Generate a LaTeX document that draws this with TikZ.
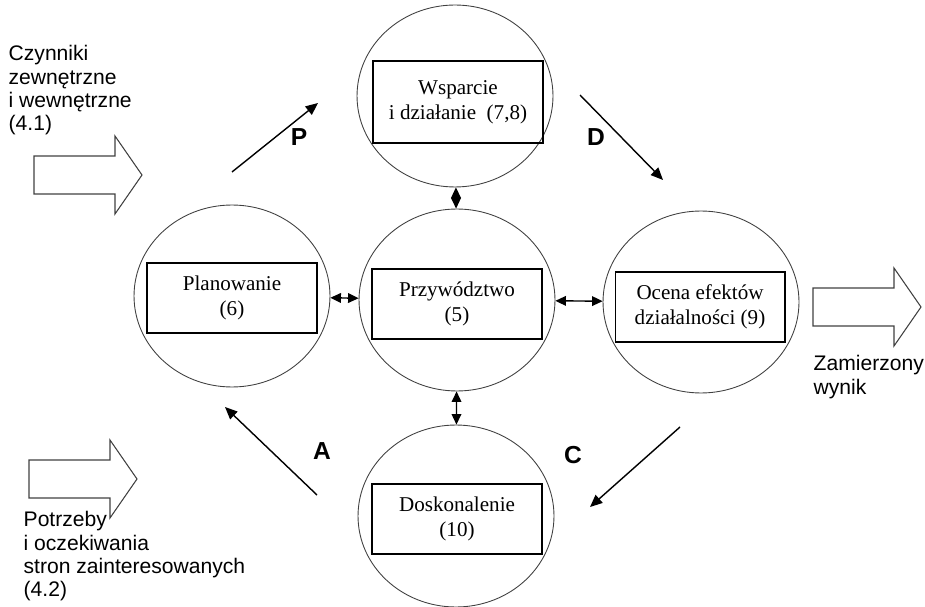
\documentclass[tikz,border=0pt]{standalone}
\usepackage{fontspec}
\setmainfont{Liberation Serif}
\setsansfont{Liberation Sans}
\usetikzlibrary{arrows.meta,shapes.geometric}

\begin{document}
\begin{tikzpicture}[x=0.02cm, y=-0.02cm, thick,
    phase/.style={draw=black!75, line width=0.5pt, ellipse, minimum width=3.92cm, minimum height=3.64cm, inner sep=0pt},
    box/.style={draw, line width=0.6pt, rectangle, minimum width=3.4cm, minimum height=1.4cm, align=center, font=\fontsize{12}{14.2}\selectfont},
    side/.style={font=\sffamily\fontsize{12}{13.2}\selectfont, align=left, inner sep=0pt, anchor=north west},
    letter/.style={font=\sffamily\bfseries\fontsize{14}{16}\selectfont},
    link/.style={line width=0.8pt, {Triangle[length=6pt,width=5.5pt]}-{Triangle[length=6pt,width=5.5pt]}},
    turn/.style={line width=0.8pt, -{Triangle[length=7pt,width=6pt]}},
    flow/.style={draw=black!75, line width=0.6pt}]
    \useasboundingbox (0,0) rectangle (925,607);

    \node[phase] (support) at (455,96) {};
    \node[phase] (plan) at (232,296) {};
    \node[phase] (lead) at (457,300) {};
    \node[phase] (eval) at (701,302) {};
    \node[phase] (improve) at (456,516) {};

    \node[box, minimum height=1.64cm] (supportbox) at (458,102) {Wsparcie\\ i działanie\ \ (7,8)};
    \node[box] (planbox) at (232,298) {Planowanie\\(6)};
    \node[box] (leadbox) at (457,304) {Przywództwo\\(5)};
    \node[box] (evalbox) at (700,307) {Ocena efektów\\działalności (9)};
    \node[box] (improvebox) at (457,519) {Doskonalenie\\(10)};

    \draw[link] (support) -- (lead);
    \draw[link] (plan) -- (lead);
    \draw[link] (lead) -- (eval);
    \draw[link] (lead) -- (improve);

    \coordinate (p1) at (232,172);
    \coordinate (p2) at (318,103);
    \coordinate (d1) at (580,95);
    \coordinate (d2) at (663,180);
    \coordinate (c1) at (680,427);
    \coordinate (c2) at (590,507);
    \coordinate (a1) at (317,495);
    \coordinate (a2) at (225,407);
    \draw[turn] (p1) -- (p2);
    \draw[turn] (d1) -- (d2);
    \draw[turn] (c1) -- (c2);
    \draw[turn] (a1) -- (a2);

    \node[letter] (P) at (299,137) {P};
    \node[letter] (D) at (596,137) {D};
    \node[letter] (C) at (573,455) {C};
    \node[letter] (A) at (322,451) {A};

    \foreach \x/\y in {34/175, 29/479, 813/307} {
        \draw[flow] (\x,\y-19) -- ++(81,0) -- ++(0,-20) -- ++(27,39) -- ++(-27,39) -- ++(0,-20) -- ++(-81,0) -- cycle;
    }

    \node[side] (factors) at (8,45) {Czynniki\\zewnętrzne\\i wewnętrzne\\(4.1)};
    \node[side] (needs) at (23,511) {Potrzeby\\i oczekiwania\\stron zainteresowanych\\(4.2)};
    \node[side] (result) at (813,355) {Zamierzony\\wynik};
\end{tikzpicture}
\end{document}
